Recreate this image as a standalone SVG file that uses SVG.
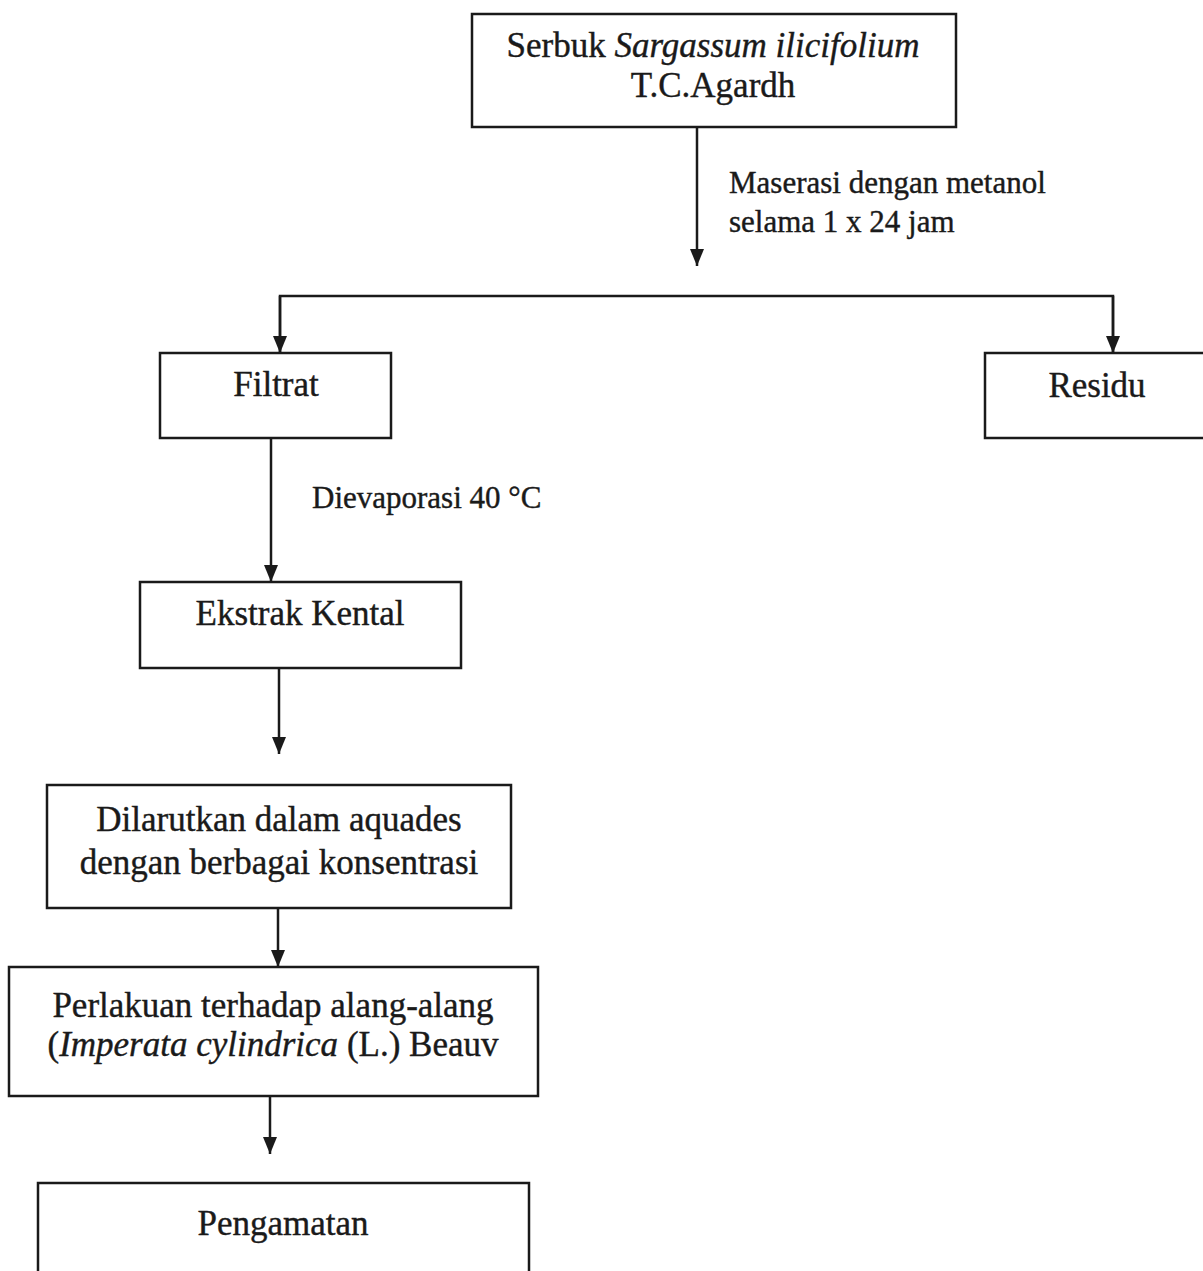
<svg xmlns="http://www.w3.org/2000/svg" width="1203" height="1271" viewBox="0 0 1203 1271">
<style>
.box{fill:#fff;stroke:#1a1a1a;stroke-width:2.5}
.t{font-family:"Liberation Serif","Times New Roman",serif;font-size:35px;fill:#1a1a1a;stroke:#1a1a1a;stroke-width:0.4;text-anchor:middle}
.l{font-family:"Liberation Serif","Times New Roman",serif;font-size:31px;fill:#1a1a1a;stroke:#1a1a1a;stroke-width:0.4}
.c{fill:none;stroke:#1a1a1a;stroke-width:2.5}
</style>
<defs>
<marker id="ad" markerUnits="userSpaceOnUse" markerWidth="18" markerHeight="16" refX="17" refY="8" orient="auto" viewBox="0 0 18 16">
<path d="M0,1 L17,8 L0,15 Z" fill="#1a1a1a"/>
</marker>
</defs>
<rect width="1203" height="1271" fill="#fff"/>
<g id="connectors">
<line class="c" x1="697" y1="127" x2="697" y2="266" marker-end="url(#ad)"/>
<polyline class="c" points="280,353 280,296 1113,296 1113,353"/>
<line class="c" x1="280" y1="296" x2="280" y2="353" marker-end="url(#ad)"/>
<line class="c" x1="1113" y1="296" x2="1113" y2="353" marker-end="url(#ad)"/>
<line class="c" x1="271" y1="438" x2="271" y2="582" marker-end="url(#ad)"/>
<line class="c" x1="279" y1="668" x2="279" y2="754" marker-end="url(#ad)"/>
<line class="c" x1="278" y1="908" x2="278" y2="967" marker-end="url(#ad)"/>
<line class="c" x1="270" y1="1096" x2="270" y2="1154" marker-end="url(#ad)"/>
<text class="l" x="729" y="193">Maserasi dengan metanol</text>
<text class="l" x="729" y="232">selama 1 x 24 jam</text>
<text class="l" x="312" y="508">Dievaporasi 40 °C</text>
</g>
<g id="n-serbuk">
<rect class="box" x="472" y="14" width="484" height="113"/>
<text class="t" x="713" y="57">Serbuk <tspan font-style="italic">Sargassum ilicifolium</tspan></text>
<text class="t" x="713" y="97">T.C.Agardh</text>
</g>
<g id="n-filtrat">
<rect class="box" x="160" y="353" width="231" height="85"/>
<text class="t" x="276" y="396">Filtrat</text>
</g>
<g id="n-residu">
<rect class="box" x="985" y="353" width="230" height="85"/>
<text class="t" x="1097" y="397">Residu</text>
</g>
<g id="n-ekstrak">
<rect class="box" x="140" y="582" width="321" height="86"/>
<text class="t" x="300" y="625">Ekstrak Kental</text>
</g>
<g id="n-dilarutkan">
<rect class="box" x="47" y="785" width="464" height="123"/>
<text class="t" x="279" y="831">Dilarutkan dalam aquades</text>
<text class="t" x="279" y="874">dengan berbagai konsentrasi</text>
</g>
<g id="n-perlakuan">
<rect class="box" x="9" y="967" width="529" height="129"/>
<text class="t" x="273" y="1017">Perlakuan terhadap alang-alang</text>
<text class="t" x="273" y="1056">(<tspan font-style="italic">Imperata cylindrica</tspan> (L.) Beauv</text>
</g>
<g id="n-pengamatan">
<rect class="box" x="38" y="1183" width="491" height="122"/>
<text class="t" x="283" y="1235">Pengamatan</text>
</g>
</svg>
